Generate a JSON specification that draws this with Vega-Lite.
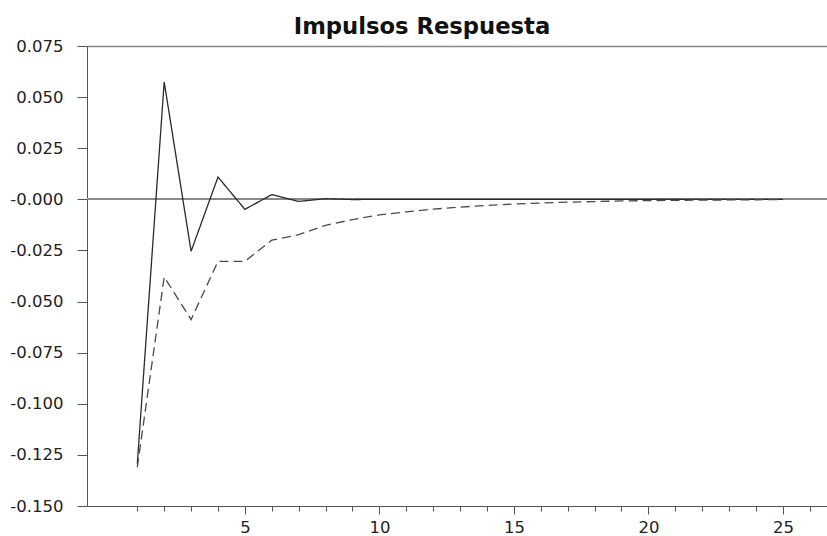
{
  "$schema": "https://vega.github.io/schema/vega-lite/v6.json",
  "autosize": "none",
  "width": 740,
  "height": 460,
  "padding": {"left": 87, "top": 46, "right": 0, "bottom": 30},
  "background": "white",
  "title": {
    "text": "Impulsos Respuesta",
    "font": "DejaVu Sans",
    "fontWeight": "bold",
    "fontSize": 22.7,
    "color": "#111",
    "anchor": "middle",
    "dx": -35,
    "baseline": "alphabetic",
    "offset": -19
  },
  "data": {
    "values": [
      {"t": 1, "v": -0.1293, "s": "solid"},
      {"t": 2, "v": 0.0574, "s": "solid"},
      {"t": 3, "v": -0.0254, "s": "solid"},
      {"t": 4, "v": 0.0109, "s": "solid"},
      {"t": 5, "v": -0.0049, "s": "solid"},
      {"t": 6, "v": 0.0023, "s": "solid"},
      {"t": 7, "v": -0.0010, "s": "solid"},
      {"t": 8, "v": 0.0003, "s": "solid"},
      {"t": 9, "v": -0.0001, "s": "solid"},
      {"t": 10, "v": 0.0, "s": "solid"},
      {"t": 11, "v": 0.0, "s": "solid"},
      {"t": 12, "v": 0.0, "s": "solid"},
      {"t": 13, "v": 0.0, "s": "solid"},
      {"t": 14, "v": 0.0, "s": "solid"},
      {"t": 15, "v": 0.0, "s": "solid"},
      {"t": 16, "v": 0.0, "s": "solid"},
      {"t": 17, "v": 0.0, "s": "solid"},
      {"t": 18, "v": 0.0, "s": "solid"},
      {"t": 19, "v": 0.0, "s": "solid"},
      {"t": 20, "v": 0.0, "s": "solid"},
      {"t": 21, "v": 0.0, "s": "solid"},
      {"t": 22, "v": 0.0, "s": "solid"},
      {"t": 23, "v": 0.0, "s": "solid"},
      {"t": 24, "v": 0.0, "s": "solid"},
      {"t": 25, "v": 0.0, "s": "solid"},
      {"t": 1, "v": -0.131, "s": "dashed"},
      {"t": 2, "v": -0.038, "s": "dashed"},
      {"t": 3, "v": -0.0588, "s": "dashed"},
      {"t": 4, "v": -0.0303, "s": "dashed"},
      {"t": 5, "v": -0.0303, "s": "dashed"},
      {"t": 6, "v": -0.0200, "s": "dashed"},
      {"t": 7, "v": -0.0173, "s": "dashed"},
      {"t": 8, "v": -0.0127, "s": "dashed"},
      {"t": 9, "v": -0.0099, "s": "dashed"},
      {"t": 10, "v": -0.0076, "s": "dashed"},
      {"t": 11, "v": -0.0061, "s": "dashed"},
      {"t": 12, "v": -0.0048, "s": "dashed"},
      {"t": 13, "v": -0.0038, "s": "dashed"},
      {"t": 14, "v": -0.0030, "s": "dashed"},
      {"t": 15, "v": -0.0023, "s": "dashed"},
      {"t": 16, "v": -0.0018, "s": "dashed"},
      {"t": 17, "v": -0.0014, "s": "dashed"},
      {"t": 18, "v": -0.0011, "s": "dashed"},
      {"t": 19, "v": -0.0008, "s": "dashed"},
      {"t": 20, "v": -0.0006, "s": "dashed"},
      {"t": 21, "v": -0.0005, "s": "dashed"},
      {"t": 22, "v": -0.0004, "s": "dashed"},
      {"t": 23, "v": -0.0003, "s": "dashed"},
      {"t": 24, "v": -0.0002, "s": "dashed"},
      {"t": 25, "v": -0.0001, "s": "dashed"}
    ]
  },
  "resolve": {"axis": {"x": "independent"}},
  "layer": [
    {
      "mark": {"type": "rule", "color": "#888", "strokeWidth": 1.5},
      "encoding": {
        "y": {"datum": 0, "type": "quantitative", "title": null}
      }
    },
    {
      "mark": {"type": "point", "opacity": 0},
      "encoding": {
        "x": {
          "field": "t", "type": "quantitative", "title": null,
          "scale": {"domain": [-0.87, 26.64], "nice": false, "zero": false},
          "axis": {"orient": "bottom", "values": [1,2,3,4,5,6,7,8,9,10,11,12,13,14,15,16,17,18,19,20,21,22,23,24,25,26], "labels": false, "domain": false, "tickSize": 5, "tickColor": "#555", "grid": false}
        },
        "y": {"field": "v", "type": "quantitative", "title": null}
      }
    },
    {
      "mark": {"type": "point", "opacity": 0},
      "encoding": {
        "x": {
          "field": "t", "type": "quantitative", "title": null,
          "axis": {"orient": "top", "labels": false, "ticks": false, "domain": true, "domainColor": "#888", "domainWidth": 1.5, "grid": false}
        },
        "y": {"field": "v", "type": "quantitative", "title": null}
      }
    },
    {
      "mark": {"type": "line", "strokeWidth": 1.3},
      "encoding": {
        "x": {
          "field": "t", "type": "quantitative", "title": null,
          "axis": {"orient": "bottom", "values": [5, 10, 15, 20, 25], "tickSize": 8, "tickColor": "#555", "domainColor": "#555", "labelFont": "DejaVu Sans", "labelFontSize": 16.5, "labelColor": "#222", "labelPadding": 5, "grid": false}
        },
        "y": {
          "field": "v", "type": "quantitative", "title": null,
          "scale": {"domain": [-0.15, 0.075], "nice": false, "zero": false},
          "axis": {
            "values": [-0.15, -0.125, -0.1, -0.075, -0.05, -0.025, 0, 0.025, 0.05, 0.075],
            "labelExpr": "(datum.value <= 0 ? '-' : '') + format(abs(datum.value), '.3f')",
            "tickSize": 10, "tickColor": "#555", "domainColor": "#555",
            "labelFont": "DejaVu Sans", "labelFontSize": 16.5, "labelColor": "#222",
            "labelPadding": 14, "grid": false
          }
        },
        "strokeDash": {
          "field": "s", "type": "nominal", "legend": null,
          "scale": {"domain": ["solid", "dashed"], "range": [[1, 0], [9, 5]]}
        },
        "color": {
          "field": "s", "type": "nominal", "legend": null,
          "scale": {"domain": ["solid", "dashed"], "range": ["#2a2a2a", "#4a4a4a"]}
        }
      }
    }
  ],
  "config": {
    "view": {"stroke": null},
    "axis": {"grid": false}
  }
}
